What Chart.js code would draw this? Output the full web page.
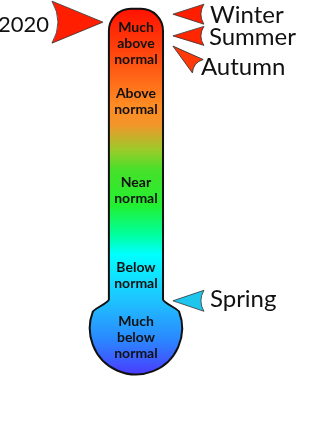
<!DOCTYPE html>
<html>
<head>
<meta charset="utf-8">
<script src="https://cdn.jsdelivr.net/npm/chart.js@4"></script>
<style>
  html, body { margin: 0; padding: 0; background: #fff; }
  #wrap { width: 330px; height: 443px; }
</style>
</head>
<body>
<div id="wrap"><canvas id="chart"></canvas></div>
<script>
// levels along the thermometer (y = position on a 0..10 scale)
const levelNames = [
  ['Much', 'below', 'normal'],
  ['Below', 'normal'],
  ['Near', 'normal'],
  ['Above', 'normal'],
  ['Much', 'above', 'normal']
]
const levelY = [2.39, 3.79, 5.71, 7.71, 9.03]

// arrows: which season points where
const seasons = ['2020', 'Winter', 'Summer', 'Autumn', 'Spring']
const seasonLevel = [9.50, 9.68, 9.19, 8.96, 3.21]
const seasonSide = [-1, 1, 1, 1, 1]
const seasonColors = ['#ff1e00', '#ff1e00', '#ff2600', '#ff3a08', '#1ec6ee']

// thermometer geometry in scale units
const tubeX = 4.12
const tubeHalf = 0.82
const tubeTop = 9.80
const neckLevel = 3.24
const bulbLevel = 2.59
const bulbRadius = 1.40

// styles
const arrowStyle = [
  { len: 51, half: 21, notch: 6, angle: 0, dx: -54, dy: 10, align: 'right', font: 22 },
  { len: 31, half: 10, notch: 3, angle: 0, dx: 37, dy: 9, align: 'left', font: 24 },
  { len: 31, half: 9.5, notch: 3, angle: 0, dx: 36, dy: 9, align: 'left', font: 24 },
  { len: 32, half: 8.6, notch: 3, angle: 39, dx: 28, dy: 29, align: 'left', font: 24 },
  { len: 31, half: 10.5, notch: 3, angle: 0, dx: 37, dy: 6, align: 'left', font: 24 }
]
const gradientStops = [
  [0, '#ff1200'], [0.14, '#ff4e10'], [0.26, '#ff8a22'], [0.317, '#f3952a'],
  [0.385, '#9ccb2a'], [0.44, '#48e02a'], [0.536, '#22f030'], [0.617, '#00ff9c'],
  [0.672, '#00ffff'], [0.795, '#1ec4ff'], [0.904, '#2a88ff'], [1, '#4a3cff']
]

const thermometer = {
  id: 'thermometer',
  beforeDatasetsDraw(chart) {
    const { ctx, scales: { x, y } } = chart
    const cx = x.getPixelForValue(tubeX)
    const half = x.getPixelForValue(tubeX + tubeHalf) - cx
    const top = y.getPixelForValue(tubeTop)
    const neck = y.getPixelForValue(neckLevel)
    const by = y.getPixelForValue(bulbLevel)
    const br = x.getPixelForValue(tubeX + bulbRadius) - cx
    const L = cx - half
    const R = cx + half
    const r = 22
    const a = 21 * Math.PI / 180
    const px = br * Math.cos(a)
    const py = by - br * Math.sin(a)
    const tx = Math.sin(a) * 3
    const ty = Math.cos(a) * 3

    ctx.save()
    ctx.beginPath()
    ctx.moveTo(L, neck)
    ctx.lineTo(L, top + r)
    ctx.arcTo(L, top, L + r, top, r)
    ctx.arcTo(R, top, R, top + r, r)
    ctx.lineTo(R, neck)
    ctx.bezierCurveTo(R, neck + 3, cx + px - tx, py - ty, cx + px, py)
    ctx.arc(cx, by, br, -a, Math.PI + a)
    ctx.bezierCurveTo(cx - px + tx, py - ty, L, neck + 3, L, neck)
    ctx.closePath()

    const g = ctx.createLinearGradient(0, top, 0, by + br)
    gradientStops.forEach(([p, c]) => g.addColorStop(p, c))
    ctx.fillStyle = g
    ctx.fill()
    ctx.lineWidth = 2
    ctx.lineJoin = 'round'
    ctx.strokeStyle = '#111'
    ctx.stroke()
    ctx.restore()
  },
  afterDatasetsDraw(chart) {
    const { ctx } = chart

    // level labels inside the tube
    const levelMeta = chart.getDatasetMeta(0)
    ctx.save()
    ctx.fillStyle = '#111'
    ctx.textAlign = 'center'
    ctx.font = 'bold 14px Lato'
    levelMeta.data.forEach((pt, i) => {
      const lines = levelNames[i]
      const lh = 16
      lines.forEach((t, j) => {
        ctx.fillText(t, pt.x, pt.y + (j - (lines.length - 1) / 2) * lh + 5)
      })
    })
    ctx.restore()

    // season arrows
    const arrowMeta = chart.getDatasetMeta(1)
    arrowMeta.data.forEach((pt, i) => {
      const s = arrowStyle[i]
      const d = seasonSide[i]
      ctx.save()
      ctx.translate(pt.x, pt.y)
      ctx.rotate(s.angle * Math.PI / 180)
      ctx.beginPath()
      ctx.moveTo(0, 0)
      ctx.lineTo(d * s.len, -s.half)
      ctx.quadraticCurveTo(d * (s.len - 2 * s.notch), 0, d * s.len, s.half)
      ctx.closePath()
      ctx.fillStyle = seasonColors[i]
      ctx.fill()
      ctx.lineWidth = 0.8
      ctx.strokeStyle = '#333'
      ctx.stroke()
      ctx.restore()

      ctx.save()
      ctx.fillStyle = '#111'
      ctx.textAlign = s.align
      ctx.font = s.font + 'px Lato'
      ctx.fillText(seasons[i], pt.x + s.dx, pt.y + s.dy)
      ctx.restore()
    })
  }
}

new Chart(document.getElementById('chart'), {
  type: 'scatter',
  data: {
    datasets: [
      {
        label: 'Levels',
        data: levelY.map(v => ({ x: tubeX, y: v })),
        pointRadius: 0
      },
      {
        label: 'Seasons',
        data: seasonLevel.map((v, i) => ({ x: tubeX + (seasonSide[i] < 0 ? -1.0 : 1.12), y: v })),
        pointRadius: 0
      }
    ]
  },
  options: {
    responsive: true,
    maintainAspectRatio: false,
    animation: false,
    layout: { padding: 0 },
    scales: {
      x: { type: 'linear', min: 0, max: 10, display: false },
      y: { type: 'linear', min: 0, max: 10, display: false }
    },
    plugins: {
      legend: { display: false },
      tooltip: { enabled: false }
    }
  },
  plugins: [thermometer]
})
</script>
</body>
</html>
